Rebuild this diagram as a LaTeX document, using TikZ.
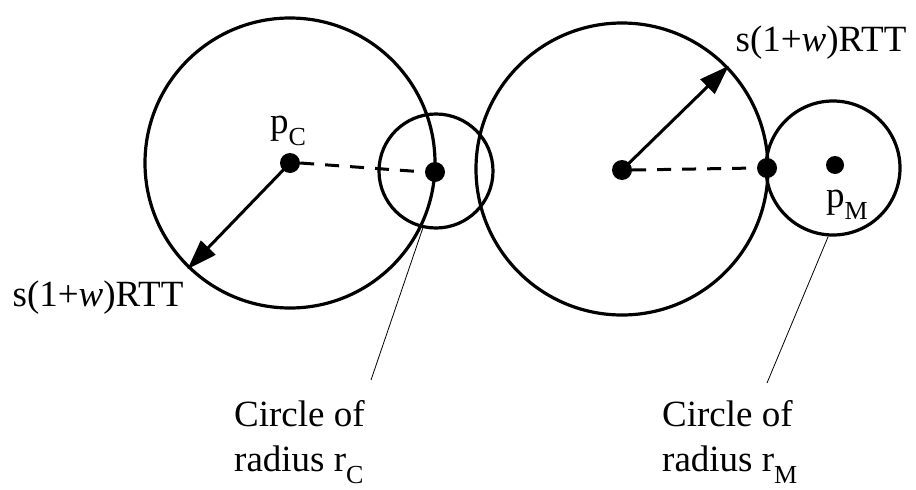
\documentclass[tikz,border=0pt]{standalone}
\usepackage{fontspec}
\setmainfont{Liberation Serif}
\usetikzlibrary{arrows.meta}
\newcommand{\lowsub}[1]{\raisebox{-0.32em}{\fontsize{26}{26}\selectfont #1}}
\tikzset{
  ring/.style={circle, draw, line width=3.2pt, inner sep=0pt},
  dot/.style={circle, fill, inner sep=0pt, minimum size=20pt},
  radiusarrow/.style={line width=3pt, -{Triangle[length=30pt,width=20pt]}, shorten >=-1pt},
  dashline/.style={line width=3pt, dash pattern=on 14pt off 11pt},
  callout/.style={line width=0.8pt},
  lbl/.style={font=\fontsize{37}{45}\selectfont, inner sep=0pt},
}
\begin{document}
\begin{tikzpicture}[x=1pt, y=-1pt]
\useasboundingbox (0,0) rectangle (916,490);
% circles
\node[ring, minimum size=290pt] (bigL) at (290,163) {};
\node[ring, minimum size=114pt] (smallC) at (436,171) {};
\node[ring, minimum size=292pt] (bigR) at (622,169) {};
\node[ring, minimum size=134pt] (smallM) at (833,168) {};
% dots
\node[dot] (pC) at (290,163) {};
\node[dot] (qC) at (435,172) {};
\node[dot] (cR) at (622,170) {};
\node[dot] (qM) at (767,168) {};
\node[dot, minimum size=18pt] (pM) at (835,165) {};
% dashed
\draw[dashline] (pC.east) -- (qC.west);
\draw[dashline] (cR.east) -- (qM.west);
% radius arrows
\draw[radiusarrow] (pC.center) -- (bigL.226);
\draw[radiusarrow] (cR.center) -- (bigR.44);
% labels
\node[lbl] (lpC) at (288,131) {p\lowsub{C}};
\node[lbl] (lpM) at (847,205) {p\lowsub{M}};
\node[lbl] (sL) at (98,298) {s(1+\textit{w})RTT};
\node[lbl] (sR) at (821,43) {s(1+\textit{w})RTT};
% callouts
\coordinate (eC) at (371,380);
\coordinate (eM) at (767,383);
\draw[callout] (smallC.257) -- (eC);
\draw[callout] (smallM.266) -- (eM);
\node[lbl, align=left, anchor=west] (tC) at (234,442) {Circle of\\radius r\lowsub{C}};
\node[lbl, align=left, anchor=west] (tM) at (662,442) {Circle of\\radius r\lowsub{M}};
\end{tikzpicture}
\end{document}
